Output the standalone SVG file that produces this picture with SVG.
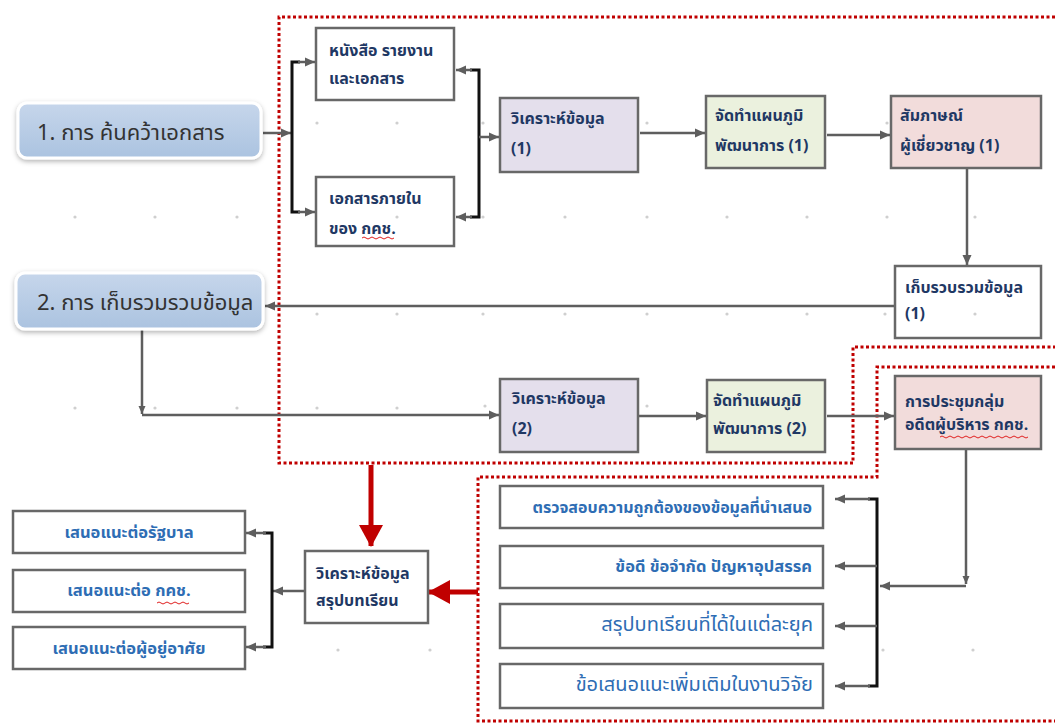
<svg xmlns="http://www.w3.org/2000/svg" width="1055" height="724" viewBox="0 0 1055 724">
<defs>
<style>
.box{fill:#ffffff;stroke:#686868;stroke-width:2.5}
.lav{fill:#e4dfec}
.grn{fill:#ebf1de}
.pnk{fill:#f2dcdb}
.t{font-family:"Noto Sans Thai","Noto Sans","DejaVu Sans",sans-serif;font-size:16px;font-weight:bold;fill:#1f3864}
.tb{font-family:"Noto Sans Thai","Noto Sans","DejaVu Sans",sans-serif;fill:#2e6db4}
.bb{font-weight:bold}
.tn{font-family:"Noto Sans Thai","Noto Sans","DejaVu Sans",sans-serif;font-size:22px;fill:#333333}
.conn{fill:none;stroke:#5e5e5e;stroke-width:2.5}
.brk{fill:none;stroke:#111111;stroke-width:3}
.red{fill:none;stroke:#c00000;stroke-width:5}
.dotline{fill:none;stroke:#c00000;stroke-width:3;stroke-dasharray:3 2.5}
.sq{fill:none;stroke:#e02020;stroke-width:1}
.gd{fill:#cfcfcf}
.node{fill:url(#ng);stroke:#ffffff;stroke-width:3;filter:url(#sh)}
</style>
<linearGradient id="ng" x1="0" y1="0" x2="0" y2="1">
<stop offset="0" stop-color="#c6d6eb"/>
<stop offset="1" stop-color="#abc3e0"/>
</linearGradient>
<filter id="sh" x="-10%" y="-20%" width="120%" height="150%">
<feDropShadow dx="0" dy="2" stdDeviation="2.5" flood-color="#000" flood-opacity="0.3"/>
</filter>
<marker id="ah" markerUnits="userSpaceOnUse" markerWidth="10" markerHeight="10" refX="10" refY="5" orient="auto">
<path d="M0,0.5 L10,5 L0,9.5 z" fill="#5e5e5e"/>
</marker>
<marker id="ahs" markerUnits="userSpaceOnUse" markerWidth="8" markerHeight="8" refX="8" refY="4" orient="auto">
<path d="M0,0.5 L8,4 L0,7.5 z" fill="#5e5e5e"/>
</marker>
<marker id="rh" markerUnits="userSpaceOnUse" markerWidth="22" markerHeight="24" refX="21" refY="12" orient="auto">
<path d="M0,0 L22,12 L0,24 z" fill="#c00000"/>
</marker>
</defs>

<!-- dotted red regions -->
<g id="regions">
<path class="dotline" d="M1055,17 H279 V463 H853 V347 H1055"/>
<path class="dotline" d="M1055,367 H877 V477 H478 V721 H1055"/>
</g>

<!-- connectors -->
<g id="connectors">
<path class="conn" d="M263,133 H291" marker-end="url(#ah)"/>
<path class="brk" d="M300,62 H292 V212 H300"/>
<path class="conn" d="M298,62 H315" marker-end="url(#ah)"/>
<path class="conn" d="M298,212 H315" marker-end="url(#ah)"/>
<path class="brk" d="M470,70 H479 V217 H470"/>
<path class="conn" d="M472,70 H456" marker-end="url(#ah)"/>
<path class="conn" d="M472,217 H456" marker-end="url(#ah)"/>
<path class="conn" d="M479,137 H499" marker-end="url(#ah)"/>
<path class="conn" d="M640,133 H705" marker-end="url(#ah)"/>
<path class="conn" d="M827,135 H890" marker-end="url(#ah)"/>
<path class="conn" d="M967,169 V265" marker-end="url(#ah)"/>
<path class="conn" d="M895,306 H265" marker-end="url(#ah)"/>
<path class="conn" d="M142,330 V414" marker-end="url(#ahs)"/>
<path class="conn" d="M142,415 H499" marker-end="url(#ah)"/>
<path class="conn" d="M639,416 H706" marker-end="url(#ah)"/>
<path class="conn" d="M827,416 H894" marker-end="url(#ah)"/>
<path class="conn" d="M966,450 V584" marker-end="url(#ahs)"/>
<path class="conn" d="M966,586 H880" marker-end="url(#ah)"/>
<path class="brk" d="M868,499 H877 V686 H868"/>
<path class="conn" d="M870,499 H835" marker-end="url(#ah)"/>
<path class="conn" d="M877,566 H835" marker-end="url(#ah)"/>
<path class="conn" d="M877,626 H835" marker-end="url(#ah)"/>
<path class="conn" d="M870,686 H835" marker-end="url(#ah)"/>
<path class="red" d="M371,465 V546" marker-end="url(#rh)"/>
<path class="red" d="M478,592 H429" marker-end="url(#rh)"/>
<path class="conn" d="M305,591 H273" marker-end="url(#ah)"/>
<path class="brk" d="M263,533 H272 V647 H263"/>
<path class="conn" d="M266,533 H246" marker-end="url(#ah)"/>
<path class="conn" d="M266,647 H246" marker-end="url(#ah)"/>
</g>

<!-- nodes -->
<g id="n1">
<rect class="node" x="18" y="103" width="243" height="55" rx="9"/>
<text class="tn" x="37" y="140">1. การ ค้นคว้าเอกสาร</text>
</g>
<g id="n2">
<rect class="node" x="16" y="273" width="247" height="56" rx="9"/>
<text class="tn" x="37" y="310">2. การ เก็บรวมรวบข้อมูล</text>
</g>
<g id="b_books">
<rect class="box" x="316" y="28" width="138" height="72"/>
<text class="t" x="329" y="56">หนังสือ รายงาน</text>
<text class="t" x="329" y="84">และเอกสาร</text>
</g>
<g id="b_internal">
<rect class="box" x="316" y="177" width="138" height="69"/>
<text class="t" x="329" y="204">เอกสารภายใน</text>
<text class="t" x="329" y="234">ของ กคช.</text>
<path class="sq" d="M362,238 q2,-2 4,0 t4,0 t4,0 t4,0 t4,0 t4,0 t4,0 t4,0"/>
</g>
<g id="b_an1">
<rect class="box lav" x="500" y="98" width="138" height="74"/>
<text class="t" x="511" y="124">วิเคราะห์ข้อมูล</text>
<text class="t" x="511" y="154">(1)</text>
</g>
<g id="b_ch1">
<rect class="box grn" x="706" y="96" width="119" height="72"/>
<text class="t" x="715" y="121">จัดทำแผนภูมิ</text>
<text class="t" x="715" y="151">พัฒนาการ (1)</text>
</g>
<g id="b_int1">
<rect class="box pnk" x="891" y="96" width="150" height="72"/>
<text class="t" x="900" y="121">สัมภาษณ์</text>
<text class="t" x="900" y="151">ผู้เชี่ยวชาญ (1)</text>
</g>
<g id="b_col1">
<rect class="box" x="895" y="266" width="146" height="72"/>
<text class="t" x="905" y="293">เก็บรวบรวมข้อมูล</text>
<text class="t" x="905" y="319">(1)</text>
</g>
<g id="b_an2">
<rect class="box lav" x="500" y="379" width="138" height="73"/>
<text class="t" x="512" y="404">วิเคราะห์ข้อมูล</text>
<text class="t" x="512" y="434">(2)</text>
</g>
<g id="b_ch2">
<rect class="box grn" x="707" y="380" width="118" height="72"/>
<text class="t" x="713" y="406">จัดทำแผนภูมิ</text>
<text class="t" x="713" y="434">พัฒนาการ (2)</text>
</g>
<g id="b_meet">
<rect class="box pnk" x="895" y="376" width="146" height="73"/>
<text class="t" x="905" y="407">การประชุมกลุ่ม</text>
<text class="t" x="905" y="430">อดีตผู้บริหาร กคช.</text>
<path class="sq" d="M940,437 q2,-2 4,0 t4,0 t4,0 t4,0 t4,0 t4,0 t4,0 t4,0 t4,0 t4,0 t4,0 t4,0 t4,0 t4,0 t4,0 t4,0 t4,0 t4,0 t4,0 t4,0 t4,0 t4,0"/>
</g>
<g id="b_r1">
<rect class="box" x="500" y="486" width="323" height="42"/>
<text class="tb bb" x="812" y="513" font-size="16" text-anchor="end">ตรวจสอบความถูกต้องของข้อมูลที่นำเสนอ</text>
</g>
<g id="b_r2">
<rect class="box" x="500" y="546" width="323" height="42"/>
<text class="tb bb" x="812" y="572" font-size="16.5" text-anchor="end">ข้อดี ข้อจำกัด ปัญหาอุปสรรค</text>
</g>
<g id="b_r3">
<rect class="box" x="500" y="604" width="323" height="44"/>
<text class="tb" x="813" y="631" font-size="20" text-anchor="end">สรุปบทเรียนที่ได้ในแต่ละยุค</text>
</g>
<g id="b_r4">
<rect class="box" x="500" y="664" width="323" height="44"/>
<text class="tb" x="813" y="691" font-size="20" text-anchor="end">ข้อเสนอแนะเพิ่มเติมในงานวิจัย</text>
</g>
<g id="b_sum">
<rect class="box" x="305" y="551" width="123" height="72"/>
<text class="t" x="316" y="579">วิเคราะห์ข้อมูล</text>
<text class="t" x="316" y="606">สรุปบทเรียน</text>
</g>
<g id="b_l1">
<rect class="box" x="13" y="511" width="232" height="42"/>
<text class="tb bb" x="129" y="538" font-size="16.5" text-anchor="middle">เสนอแนะต่อรัฐบาล</text>
</g>
<g id="b_l2">
<rect class="box" x="13" y="570" width="232" height="42"/>
<text class="tb bb" x="129" y="596" font-size="16.5" text-anchor="middle">เสนอแนะต่อ กคช.</text>
<path class="sq" d="M157,603 q2,-2 4,0 t4,0 t4,0 t4,0 t4,0 t4,0 t4,0 t4,0"/>
</g>
<g id="b_l3">
<rect class="box" x="13" y="627" width="232" height="42"/>
<text class="tb bb" x="129" y="654" font-size="16.5" text-anchor="middle">เสนอแนะต่อผู้อยู่อาศัย</text>
</g>

<!-- faint slide grid dots -->
<g id="grid">
<circle class="gd" cx="317" cy="123" r="1.6"/><circle class="gd" cx="397" cy="123" r="1.6"/><circle class="gd" cx="483" cy="123" r="1.6"/><circle class="gd" cx="647" cy="123" r="1.6"/><circle class="gd" cx="887" cy="123" r="1.6"/>
<circle class="gd" cx="75" cy="217" r="1.6"/><circle class="gd" cx="155" cy="217" r="1.6"/><circle class="gd" cx="237" cy="217" r="1.6"/><circle class="gd" cx="397" cy="217" r="1.6"/><circle class="gd" cx="483" cy="217" r="1.6"/><circle class="gd" cx="565" cy="217" r="1.6"/><circle class="gd" cx="647" cy="217" r="1.6"/><circle class="gd" cx="727" cy="217" r="1.6"/><circle class="gd" cx="807" cy="217" r="1.6"/><circle class="gd" cx="887" cy="217" r="1.6"/><circle class="gd" cx="975" cy="217" r="1.6"/>
<circle class="gd" cx="317" cy="314" r="1.6"/><circle class="gd" cx="397" cy="314" r="1.6"/><circle class="gd" cx="483" cy="314" r="1.6"/><circle class="gd" cx="565" cy="314" r="1.6"/><circle class="gd" cx="647" cy="314" r="1.6"/><circle class="gd" cx="727" cy="314" r="1.6"/><circle class="gd" cx="807" cy="314" r="1.6"/><circle class="gd" cx="885" cy="314" r="1.6"/><circle class="gd" cx="975" cy="314" r="1.6"/>
<circle class="gd" cx="75" cy="408" r="1.6"/><circle class="gd" cx="155" cy="408" r="1.6"/><circle class="gd" cx="237" cy="408" r="1.6"/><circle class="gd" cx="317" cy="408" r="1.6"/><circle class="gd" cx="397" cy="408" r="1.6"/><circle class="gd" cx="485" cy="406" r="1.6"/><circle class="gd" cx="647" cy="406" r="1.6"/>
<circle class="gd" cx="338" cy="650" r="1.6"/><circle class="gd" cx="430" cy="650" r="1.6"/><circle class="gd" cx="883" cy="650" r="1.6"/><circle class="gd" cx="973" cy="650" r="1.6"/>
</g>
</svg>
